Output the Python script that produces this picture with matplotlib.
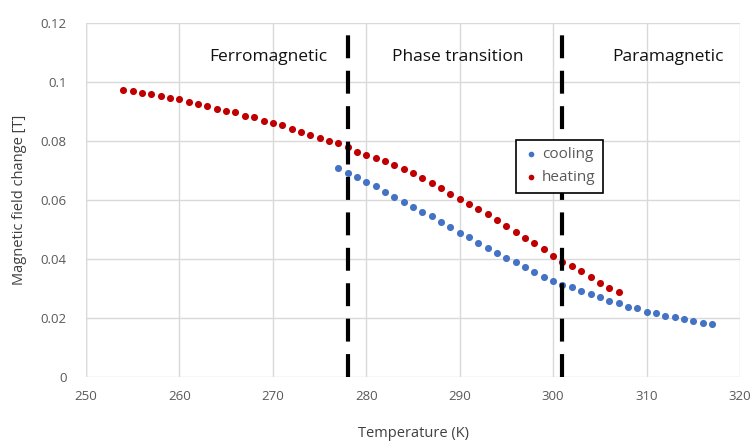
import matplotlib
matplotlib.use("Agg")
import matplotlib.pyplot as plt

plt.rcParams['font.family'] = ['Open Sans', 'DejaVu Sans']

heating_T = [254, 255, 256, 257, 258, 259, 260, 261, 262, 263, 264, 265, 266, 267,
             268, 269, 270, 271, 272, 273, 274, 275, 276, 277, 278, 279, 280, 281,
             282, 283, 284, 285, 286, 287, 288, 289, 290, 291, 292, 293, 294, 295,
             296, 297, 298, 299, 300, 301, 302, 303, 304, 305, 306, 307]
heating_B = [0.0973, 0.0968, 0.0964, 0.0960, 0.0953, 0.0947, 0.0941, 0.0931, 0.0926,
             0.0919, 0.0909, 0.0903, 0.0897, 0.0886, 0.0880, 0.0869, 0.0860, 0.0853,
             0.0842, 0.0832, 0.0820, 0.0809, 0.0800, 0.0794, 0.0781, 0.0764, 0.0753,
             0.0741, 0.0732, 0.0719, 0.0705, 0.0690, 0.0673, 0.0656, 0.0639, 0.0622,
             0.0605, 0.0585, 0.0568, 0.0551, 0.0532, 0.0512, 0.0493, 0.0472, 0.0453,
             0.0433, 0.0410, 0.0391, 0.0376, 0.0360, 0.0338, 0.0318, 0.0301, 0.0289]

cooling_T = [277, 278, 279, 280, 281, 282, 283, 284, 285, 286, 287, 288, 289, 290,
             291, 292, 293, 294, 295, 296, 297, 298, 299, 300, 301, 302, 303, 304,
             305, 306, 307, 308, 309, 310, 311, 312, 313, 314, 315, 316, 317]
cooling_B = [0.0707, 0.0692, 0.0677, 0.0662, 0.0647, 0.0628, 0.0611, 0.0594, 0.0577,
             0.0560, 0.0546, 0.0526, 0.0507, 0.0489, 0.0473, 0.0453, 0.0436, 0.0419,
             0.0405, 0.0391, 0.0374, 0.0357, 0.0340, 0.0326, 0.0312, 0.0304, 0.0293,
             0.0281, 0.0270, 0.0259, 0.0250, 0.0238, 0.0233, 0.0221, 0.0216, 0.0208,
             0.0202, 0.0196, 0.0191, 0.0182, 0.0180]

boundaries = [278, 301]
regions = ["Ferromagnetic", "Phase transition", "Paramagnetic"]
region_x = [269.5, 289.8, 312.3]
x_ticks = [250, 260, 270, 280, 290, 300, 310, 320]
y_ticks = [0, 0.02, 0.04, 0.06, 0.08, 0.1, 0.12]
y_tick_labels = ["0", "0.02", "0.04", "0.06", "0.08", "0.1", "0.12"]

fig = plt.figure(figsize=(7.53, 4.43), dpi=100)
ax = fig.add_axes([86/753, (443-377)/443, (740-86)/753, (377-23)/443])

ax.set_xlim(250, 320)
ax.set_ylim(0, 0.12)
ax.set_xticks(x_ticks)
ax.set_yticks(y_ticks)
ax.set_yticklabels(y_tick_labels)
ax.grid(True, color='#d9d9d9', linewidth=1.0)
ax.set_axisbelow(True)
for s in ax.spines.values():
    s.set_visible(False)
ax.plot([250, 250], [0, 0.12], color='#d9d9d9', lw=1.0, zorder=0)
ax.tick_params(axis='y', length=0, labelsize=9.5, colors='#595959', pad=14)
ax.tick_params(axis='x', length=0, labelsize=9.5, colors='#595959', pad=9)

ax.scatter(cooling_T, cooling_B, s=26, color='#4472C4', label='cooling', zorder=3, linewidths=0)
ax.scatter(heating_T, heating_B, s=26, color='#C00000', label='heating', zorder=3, linewidths=0)

for b in boundaries:
    ax.plot([b, b], [0, 0.117], color='black', lw=3, dashes=(5.5, 3), zorder=4)

for name, xr in zip(regions, region_x):
    ax.text(xr, 0.1085, name, ha='center', va='center', fontsize=12.5, color='#111111')

leg = ax.legend(loc='upper left', bbox_to_anchor=(0.657, 0.67), frameon=True,
                fancybox=False, edgecolor='black', fontsize=11, handletextpad=0.2,
                borderpad=0.5, labelspacing=0.5, handlelength=1.0, markerscale=0.8,
                framealpha=1.0, borderaxespad=0)
leg.get_frame().set_linewidth(1.2)
leg.set_zorder(10)
for t in leg.get_texts():
    t.set_color('#595959')

ax.set_xlabel('Temperature (K)', fontsize=10.5, color='#404040', labelpad=17)
ax.set_ylabel('Magnetic field change [T]', fontsize=10.5, color='#404040', labelpad=10)

fig.savefig('out.png', dpi=100)
